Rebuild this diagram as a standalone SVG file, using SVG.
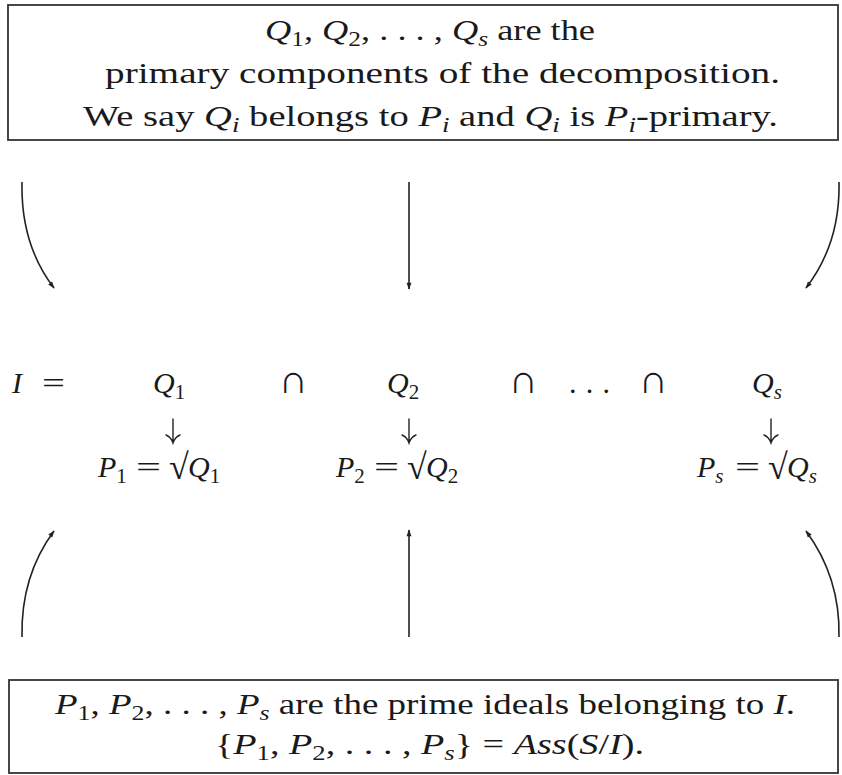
<svg xmlns="http://www.w3.org/2000/svg" width="842" height="775" viewBox="0 0 842 775">
<style>
.t{font-family:"Liberation Serif","DejaVu Serif","Noto Serif","Times New Roman",serif;font-size:30px;fill:#1a1a1a}
.i{font-style:italic}
.s{font-size:21px}
.cap{font-size:40px}
.rt{font-size:36px}
.box{fill:#fff;stroke:#333;stroke-width:1.8}
.c{fill:none;stroke:#222;stroke-width:1.6}
.d{fill:none;stroke:#222;stroke-width:1.4;stroke-linecap:round}
</style>
<defs>
<marker id="ah" viewBox="0 0 10 10" refX="9" refY="5" markerWidth="8" markerHeight="7" orient="auto" markerUnits="userSpaceOnUse">
<path d="M0,1.5 L10,5 L0,8.5 Z" fill="#222"/>
</marker>
</defs>
<rect width="842" height="775" fill="#fff"/>
<g id="components">
<rect class="box" x="8" y="5" width="830" height="135"/>
<text class="t" x="265" y="40" textLength="330" lengthAdjust="spacingAndGlyphs"><tspan class="i">Q</tspan><tspan class="s" dy="6">1</tspan><tspan dy="-6">, </tspan><tspan class="i">Q</tspan><tspan class="s" dy="6">2</tspan><tspan dy="-6">, . . . , </tspan><tspan class="i">Q</tspan><tspan class="s i" dy="6">s</tspan><tspan dy="-6"> are the</tspan></text>
<text class="t" x="105" y="83" textLength="675" lengthAdjust="spacingAndGlyphs">primary components of the decomposition.</text>
<text class="t" x="83" y="126" textLength="695" lengthAdjust="spacingAndGlyphs">We say <tspan class="i">Q</tspan><tspan class="s i" dy="6">i</tspan><tspan dy="-6"> belongs to </tspan><tspan class="i">P</tspan><tspan class="s i" dy="6">i</tspan><tspan dy="-6"> and </tspan><tspan class="i">Q</tspan><tspan class="s i" dy="6">i</tspan><tspan dy="-6"> is </tspan><tspan class="i">P</tspan><tspan class="s i" dy="6">i</tspan><tspan dy="-6">-primary.</tspan></text>
</g>
<g id="decomposition">
<text class="t" x="12" y="393"><tspan class="i">I</tspan></text>
<text class="t" x="42" y="393" textLength="23" lengthAdjust="spacingAndGlyphs">=</text>
<text class="t" x="153" y="393"><tspan class="i">Q</tspan><tspan class="s" dy="6">1</tspan></text>
<text class="t cap" x="293" y="393" text-anchor="middle">∩</text>
<text class="t" x="387" y="393"><tspan class="i">Q</tspan><tspan class="s" dy="6">2</tspan></text>
<text class="t cap" x="523" y="393" text-anchor="middle">∩</text>
<text class="t" x="569" y="393" textLength="41" lengthAdjust="spacing">. . .</text>
<text class="t cap" x="653" y="393" text-anchor="middle">∩</text>
<text class="t" x="752" y="393"><tspan class="i">Q</tspan><tspan class="s i" dy="6">s</tspan></text>
<g>
<text class="t" x="98" y="477"><tspan class="i">P</tspan><tspan class="s" dy="6">1</tspan></text>
<text class="t" x="136" y="477" textLength="25" lengthAdjust="spacingAndGlyphs">=</text>
<text class="t rt" x="169" y="479">√</text>
<text class="t" x="188" y="477"><tspan class="i">Q</tspan><tspan class="s" dy="6">1</tspan></text>
</g>
<g>
<text class="t" x="336" y="477"><tspan class="i">P</tspan><tspan class="s" dy="6">2</tspan></text>
<text class="t" x="374" y="477" textLength="25" lengthAdjust="spacingAndGlyphs">=</text>
<text class="t rt" x="407" y="479">√</text>
<text class="t" x="426" y="477"><tspan class="i">Q</tspan><tspan class="s" dy="6">2</tspan></text>
</g>
<g>
<text class="t" x="697" y="477"><tspan class="i">P</tspan><tspan class="s i" dy="6">s</tspan></text>
<text class="t" x="735" y="477" textLength="25" lengthAdjust="spacingAndGlyphs">=</text>
<text class="t rt" x="768" y="479">√</text>
<text class="t" x="787" y="477"><tspan class="i">Q</tspan><tspan class="s i" dy="6">s</tspan></text>
</g>
</g>
<g id="primes">
<rect class="box" x="9" y="680" width="829" height="93"/>
<text class="t" x="55" y="714" textLength="740" lengthAdjust="spacingAndGlyphs"><tspan class="i">P</tspan><tspan class="s" dy="6">1</tspan><tspan dy="-6">, </tspan><tspan class="i">P</tspan><tspan class="s" dy="6">2</tspan><tspan dy="-6">, . . . , </tspan><tspan class="i">P</tspan><tspan class="s i" dy="6">s</tspan><tspan dy="-6"> are the prime ideals belonging to </tspan><tspan class="i">I</tspan>.</text>
<text class="t" x="215" y="754" textLength="429" lengthAdjust="spacingAndGlyphs">{<tspan class="i">P</tspan><tspan class="s" dy="6">1</tspan><tspan dy="-6">, </tspan><tspan class="i">P</tspan><tspan class="s" dy="6">2</tspan><tspan dy="-6">, . . . , </tspan><tspan class="i">P</tspan><tspan class="s i" dy="6">s</tspan><tspan dy="-6">} = </tspan><tspan class="i">Ass</tspan>(<tspan class="i">S</tspan>/<tspan class="i">I</tspan>).</text>
</g>
<g id="connectors">
<path class="c" d="M22,182 C21,227 34,262 54,288" marker-end="url(#ah)"/>
<path class="c" d="M409,182 L409,289" marker-end="url(#ah)"/>
<path class="c" d="M839,182 C840,227 826,262 806,288" marker-end="url(#ah)"/>
<path class="d" d="M173,419 L173,442 M166,435 Q171,437 173,443 Q175,437 180,435"/>
<path class="d" d="M409,419 L409,442 M402,435 Q407,437 409,443 Q411,437 416,435"/>
<path class="d" d="M771,419 L771,442 M764,435 Q769,437 771,443 Q773,437 778,435"/>
<path class="c" d="M22,637 C21,592 34,558 54,531" marker-end="url(#ah)"/>
<path class="c" d="M409,637 L409,530" marker-end="url(#ah)"/>
<path class="c" d="M839,637 C840,592 826,558 806,531" marker-end="url(#ah)"/>
</g>
</svg>
